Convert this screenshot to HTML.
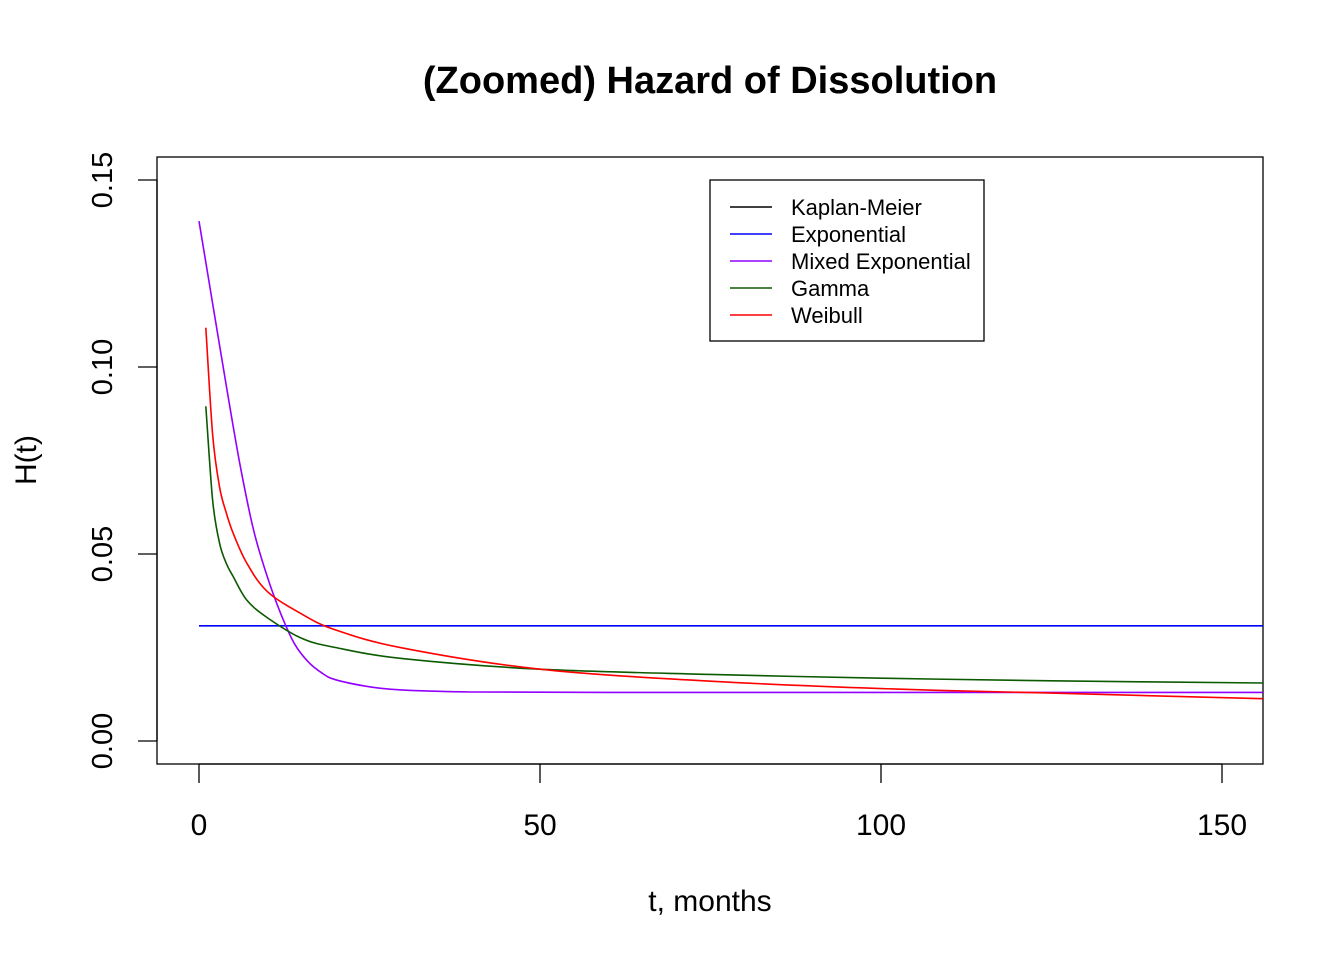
<!DOCTYPE html>
<html><head><meta charset="utf-8"><style>
body{margin:0;background:#fff}
svg{display:block;font-family:"Liberation Sans",Arial,sans-serif}
</style></head><body>
<svg id="chart" width="1344" height="960">
<text x="710" y="93" text-anchor="middle" font-size="38" font-weight="bold">(Zoomed) Hazard of Dissolution</text>
<rect x="157" y="157" width="1106" height="607" fill="none" stroke="#000" stroke-width="1.3"/>
<g id="xaxis"></g>
<g id="yaxis"></g>
<text x="710" y="911" text-anchor="middle" font-size="30">t, months</text>
<text transform="translate(36,460) rotate(-90)" text-anchor="middle" font-size="30">H(t)</text>
<g id="series"></g>
<g>
<rect x="710" y="180" width="274" height="161" fill="#fff" stroke="#000" stroke-width="1.3"/>
<g id="legend"></g>
</g>
</svg>
<script>
const xTicks=[0,50,100,150];
const yTicks=[0,0.05,0.10,0.15];
const yTickLabels=["0.00","0.05","0.10","0.15"];
const expT=[0,156];
const expH=[0.0308,0.0308];
const mixT=[0,2,4,6,8,10,12,14,16,18,20,25,30,40,60,100,156];
const mixH=[0.139,0.117,0.095,0.074,0.0564,0.044,0.034,0.026,0.0212,0.0182,0.0164,0.0145,0.0136,0.0131,0.013,0.013,0.013];
const gamT=[1,2,3,4,5,7,10,15,20,30,50,75,100,125,156];
const gamH=[0.0895,0.0644,0.053,0.0475,0.044,0.0377,0.033,0.0275,0.025,0.022,0.0192,0.0178,0.0168,0.0161,0.0155];
const weiT=[1,2,3,4,5,7,10,15,20,30,50,75,100,125,156];
const weiH=[0.1105,0.082,0.068,0.061,0.0556,0.0476,0.040,0.034,0.0297,0.0248,0.0192,0.016,0.014,0.0128,0.0113];
const legendLabels=["Kaplan-Meier","Exponential","Mixed Exponential","Gamma","Weibull"];
const legendColors=["#000","#0000ff","#9400ff","#0b5a00","#ff0000"];
const NS="http://www.w3.org/2000/svg";
const X=t=>199+t*(1222-199)/150;
const Y=h=>741-h*(741-180)/0.15;
function mk(tag,attrs,parent){const e=document.createElementNS(NS,tag);for(const k in attrs)e.setAttribute(k,attrs[k]);parent.appendChild(e);return e;}
const xa=document.getElementById('xaxis');
mk('line',{x1:X(0),x2:X(150),y1:764,y2:764,stroke:'#000','stroke-width':1.3},xa);
xTicks.forEach(t=>{
 const l=mk('line',{x1:X(t),x2:X(t),y1:764,y2:783,stroke:'#000','stroke-width':1.3},xa);
 
 
 const tx=mk('text',{x:X(t),y:835,'text-anchor':'middle','font-size':30},xa);tx.textContent=t;
 
 
});
const ya=document.getElementById('yaxis');
mk('line',{x1:157,x2:157,y1:Y(0),y2:Y(0.15),stroke:'#000','stroke-width':1.3},ya);
yTicks.forEach((v,i)=>{
 const l=mk('line',{x1:138,x2:157,y1:Y(v),y2:Y(v),stroke:'#000','stroke-width':1.3},ya);
 
 
 const tx=mk('text',{transform:`translate(112,${Y(v)}) rotate(-90)`,'text-anchor':'middle','font-size':29},ya);tx.textContent=yTickLabels[i];
 
 
});
const sg=document.getElementById('series');
function line(ts,hs,color,name){
 const P=ts.map((t,i)=>[X(t),Y(hs[i])]);
 let d='M'+P[0][0].toFixed(1)+','+P[0][1].toFixed(1);
 for(let i=0;i<P.length-1;i++){
  const p0=P[i-1]||P[i],p1=P[i],p2=P[i+1],p3=P[i+2]||P[i+1];
  const c1=[p1[0]+(p2[0]-p0[0])/6,p1[1]+(p2[1]-p0[1])/6];
  const c2=[p2[0]-(p3[0]-p1[0])/6,p2[1]-(p3[1]-p1[1])/6];
  d+=` C${c1[0].toFixed(1)},${c1[1].toFixed(1)} ${c2[0].toFixed(1)},${c2[1].toFixed(1)} ${p2[0].toFixed(1)},${p2[1].toFixed(1)}`;
 }
 const p=mk('path',{d:d,fill:'none',stroke:color,'stroke-width':1.6,'stroke-linejoin':'round'},sg);
 
 
}
line(expT,expH,'#0000ff','exponential-line');
line(mixT,mixH,'#9400ff','mixed-exponential-line');
line(gamT,gamH,'#0b5a00','gamma-line');
line(weiT,weiH,'#ff0000','weibull-line');
const lg=document.getElementById('legend');
legendLabels.forEach((s,i)=>{
 const y=207+i*27;
 const l=mk('line',{x1:730,x2:772,y1:y,y2:y,stroke:legendColors[i],'stroke-width':1.6},lg);
 
 
 const t=mk('text',{x:791,y:y+8,'font-size':22},lg);t.textContent=s;
 
 
});
</script>
</body></html>
